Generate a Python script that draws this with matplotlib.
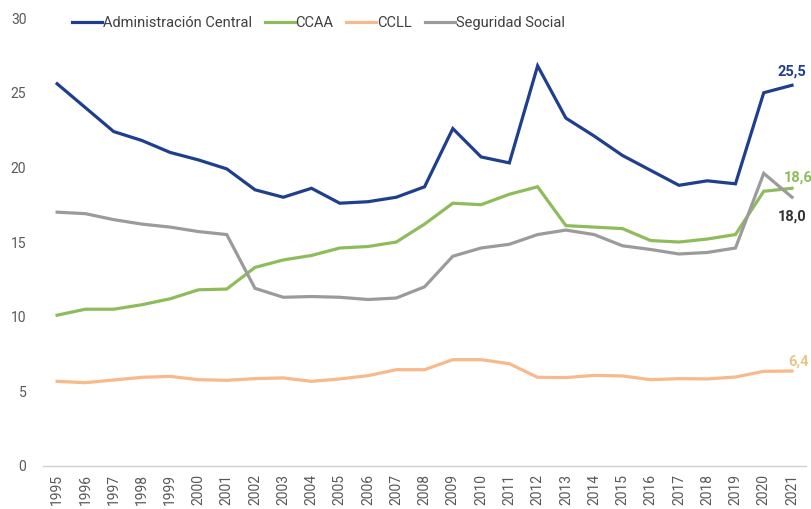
import matplotlib
matplotlib.use("Agg")
import matplotlib.pyplot as plt

plt.rcParams["font.family"] = ["Roboto", "DejaVu Sans"]

years = list(range(1995, 2022))
admin_central = [25.6, 24.0, 22.4, 21.8, 21.0, 20.5, 19.9, 18.5, 18.0, 18.6,
                 17.6, 17.7, 18.0, 18.7, 22.6, 20.7, 20.3, 26.8, 23.3, 22.1,
                 20.8, 19.8, 18.8, 19.1, 18.9, 25.0, 25.5]
ccaa = [10.1, 10.5, 10.5, 10.8, 11.2, 11.8, 11.85, 13.3, 13.8, 14.1,
        14.6, 14.7, 15.0, 16.2, 17.6, 17.5, 18.2, 18.7, 16.1, 16.0,
        15.9, 15.1, 15.0, 15.2, 15.5, 18.4, 18.6]
ccll = [5.67, 5.58, 5.76, 5.94, 6.0, 5.78, 5.74, 5.85, 5.9, 5.67,
        5.83, 6.05, 6.45, 6.45, 7.12, 7.12, 6.85, 5.94, 5.92, 6.07,
        6.03, 5.78, 5.85, 5.83, 5.96, 6.34, 6.36]
seg_social = [17.0, 16.9, 16.5, 16.2, 16.0, 15.7, 15.5, 11.9, 11.3, 11.35,
              11.3, 11.15, 11.25, 12.0, 14.05, 14.6, 14.85, 15.5, 15.8, 15.5,
              14.75, 14.5, 14.2, 14.3, 14.6, 19.6, 18.0]

series_names = ["Administración Central", "CCAA", "CCLL", "Seguridad Social"]
end_labels = ["25,5", "18,6", "6,4", "18,0"]

BLUE = "#1f3e8e"
GREEN = "#8dbd5a"
PEACH = "#f9b98a"
GREY = "#9b9b9b"

fig = plt.figure(figsize=(8.11, 5.09), dpi=100)
ax = fig.add_axes([0.053, 0.0845, 0.941, 0.88])

series = [admin_central, ccaa, ccll, seg_social]
colors = [BLUE, GREEN, PEACH, GREY]
for vals, name, c in zip(series, series_names, colors):
    ax.plot(years, vals, color=c, lw=2.3, label=name, solid_joinstyle="miter")

# end-of-line value labels
lab_style = dict(fontsize=10.5, fontweight="bold", clip_on=False)
ax.annotate(end_labels[0], (years[-1], admin_central[-1]), xytext=(0, 5),
            textcoords="offset points", ha="center", va="bottom", color=BLUE, **lab_style)
ax.annotate(end_labels[1], (years[-1], ccaa[-1]), xytext=(-6, 3),
            textcoords="offset points", ha="left", va="bottom", color=GREEN, **lab_style)
ax.annotate(end_labels[2], (years[-1], ccll[-1]), xytext=(-3, 2),
            textcoords="offset points", ha="left", va="bottom", color="#e8c68a", **lab_style)
ax.annotate(end_labels[3], (years[-1], seg_social[-1]), xytext=(-10, -9),
            textcoords="offset points", ha="left", va="top", color="#333333", **lab_style)

ax.set_xlim(1994.5, 2021.5)
ax.set_ylim(0, 30)
ax.set_yticks(range(0, 31, 5))
ax.set_xticks(years)
ax.set_xticklabels([str(y) for y in years], rotation=90)
ax.tick_params(axis="both", length=0, labelsize=10, colors="#595959")
ax.tick_params(axis="y", pad=12)
ax.tick_params(axis="x", pad=6)
for s in ["top", "right", "left"]:
    ax.spines[s].set_visible(False)
ax.spines["bottom"].set_color("#d0d0d0")
ax.spines["bottom"].set_linewidth(1.0)

leg = ax.legend(loc="center left", bbox_to_anchor=(0.038, 0.989), ncol=4, frameon=False,
                fontsize=10.5, handlelength=2.05, handletextpad=0.05, columnspacing=0.9,
                borderaxespad=0, borderpad=0)
for t in leg.get_texts():
    t.set_color("#404040")

fig.savefig("out.png", dpi=100, facecolor="white")
